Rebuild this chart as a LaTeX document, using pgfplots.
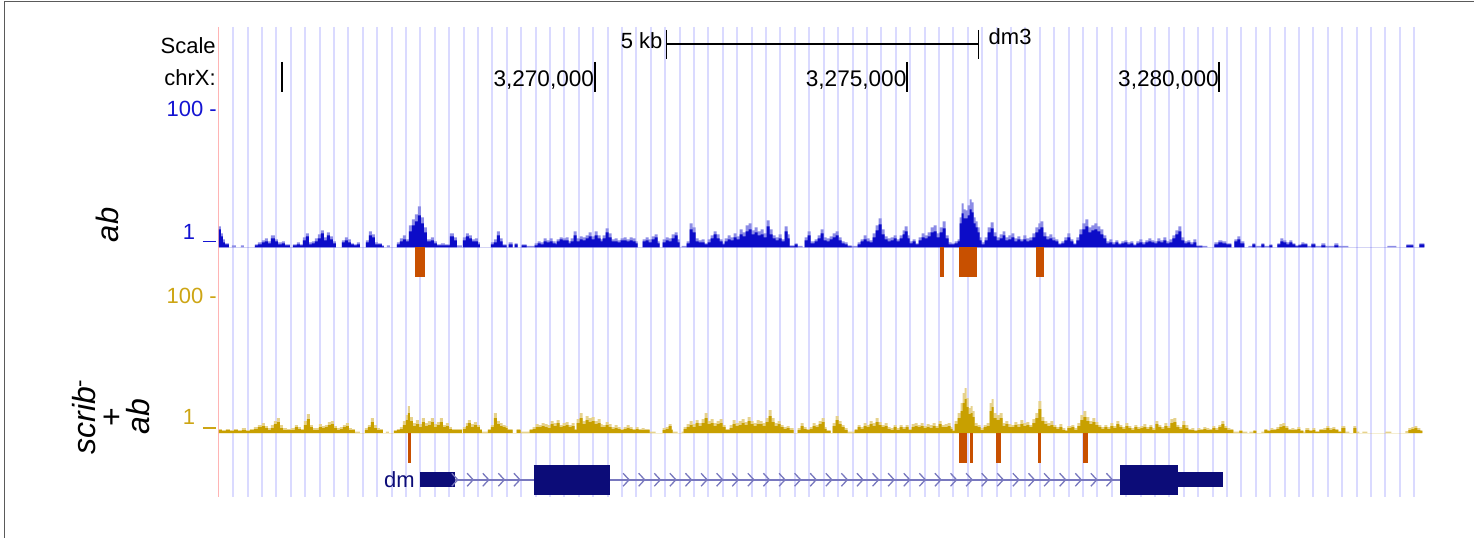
\documentclass[border=0pt]{standalone}
\usepackage{pgfplots}
\pgfplotsset{compat=1.18}
\usepackage{pgfplotstable}
\usepackage{fontspec}
\setmainfont{Liberation Sans}

\definecolor{sigB}{RGB}{12,12,200}
\definecolor{sigBl}{RGB}{140,140,230}
\definecolor{sigG}{RGB}{200,160,0}
\definecolor{sigGl}{RGB}{230,210,140}
\definecolor{hit}{RGB}{200,80,0}
\definecolor{gene}{RGB}{12,12,120}
\definecolor{intron}{RGB}{120,120,190}
\definecolor{gridc}{RGB}{218,218,255}
\definecolor{pinkl}{RGB}{255,180,180}
\definecolor{lblB}{RGB}{20,20,210}
\definecolor{lblG}{RGB}{205,165,20}
\definecolor{frame}{RGB}{90,90,90}

\pgfdeclareplotmark{chev}{%
  \pgfpathmoveto{\pgfqpoint{-3pt}{6.5pt}}%
  \pgfpathlineto{\pgfqpoint{3pt}{0pt}}%
  \pgfpathlineto{\pgfqpoint{-3pt}{-6.5pt}}%
  \pgfusepathqstroke}

% ab coverage: x (px), h = max (light), m = mean (dark)
\pgfplotstableread{
x h m
219 0 0
219 21 18
221 14 11
223 8 5
225 4 3
229 0 0
232 2 0
236 0 0
241 2 0
244 0 0
255 3 2
258 5 3
262 7 5
265 9 6
268 6 4
271 12 9
275 8 6
278 5 3
282 6 4
285 3 2
290 0 0
293 3 2
297 5 3
300 3 2
303 10 7
306 14 11
309 5 3
312 6 4
315 9 6
318 13 9
321 17 14
324 10 7
327 15 12
330 11 8
333 6 4
336 0 0
342 7 5
345 10 7
348 8 5
351 4 3
354 3 2
357 5 3
360 0 0
366 7 5
369 16 12
372 13 10
375 5 3
378 4 3
382 2 1
384 0 0
387 2 0
390 0 0
397 5 3
400 9 6
403 12 8
406 8 6
409 22 16
412 28 22
415 33 26
418 41 32
421 30 24
424 20 15
427 8 6
431 10 7
434 6 4
437 3 2
441 4 2
445 3 2
450 14 11
454 10 7
457 2 0
462 0 0
463 10 7
466 14 11
469 12 9
472 8 6
475 9 6
478 5 3
480 0 0
491 5 3
494 8 5
497 16 12
500 9 6
503 3 2
507 0 0
509 5 3
513 0 0
515 4 3
518 0 0
522 3 2
527 1.5 0
535 4 2
538 6 4
541 5 3
544 9 6
547 7 5
550 9 6
553 6 4
556 4 3
557 8 6
560 10 8
563 9 7
566 10 7
569 6 4
571 9 6
574 16 12
577 9 6
580 11 8
583 10 7
586 12 9
589 15 11
592 11 8
595 16 12
598 12 9
601 8 6
603 12 9
606 19 15
609 14 10
612 8 6
615 9 6
618 7 5
621 9 7
624 10 7
627 8 6
630 10 7
633 9 6
636 6 4
638 0 0
643 8 6
646 10 7
649 8 5
652 11 8
655 13 10
658 6 4
660 0 0
663 8 5
666 10 7
669 9 6
672 13 9
675 15 12
678 8 5
680 0 0
682 1.5 0
687 6 4
690 24 18
693 20 15
696 9 6
699 7 5
702 8 5
705 4 3
708 8 5
711 12 9
714 16 13
717 13 9
720 8 6
723 4 3
725 9 6
728 12 8
731 10 7
734 14 10
737 11 8
740 18 13
743 15 11
746 22 16
749 24 18
752 17 13
755 20 15
758 16 12
761 18 13
764 14 10
767 27 21
770 18 13
773 12 9
776 10 7
779 13 9
782 8 6
785 21 16
788 13 9
790 2 1
795 4 3
798 1.5 0
803 0 0
805 10 7
808 16 12
811 6 4
815 8 6
818 12 9
821 18 14
824 10 7
827 9 6
830 11 8
833 14 10
836 16 12
839 10 7
842 6 4
845 5 3
848 2 1
852 1.5 0
858 5 3
861 8 6
864 12 8
867 9 6
870 7 5
873 14 10
876 22 17
879 29 23
882 18 13
885 11 8
888 9 6
891 10 7
894 12 9
897 8 6
900 12 9
903 17 13
905 21 16
908 12 9
910 6 4
913 8 6
916 4 3
919 10 7
922 14 10
925 12 9
928 15 11
931 20 15
934 22 16
937 14 10
940 20 15
943 26 19
946 12 9
949 5 3
952 4 3
955 6 4
958 8 6
960 30 24
962 44 34
964 38 29
966 37 29
968 42 32
970 48 38
972 45 35
974 30 24
976 26 20
978 20 15
980 10 7
982 5 3
985 10 7
988 20 15
991 25 19
994 15 11
997 10 7
1000 13 9
1003 16 12
1006 10 7
1009 12 8
1012 14 10
1015 9 6
1018 11 8
1021 8 6
1024 12 8
1027 9 6
1030 10 7
1033 14 10
1036 20 15
1039 24 18
1041 26 20
1044 15 11
1047 11 8
1050 13 9
1053 10 7
1056 8 6
1059 4 3
1062 6 4
1065 10 7
1068 14 10
1071 8 6
1074 4 3
1077 10 7
1080 18 13
1083 24 18
1086 28 21
1089 20 15
1092 22 17
1095 24 18
1098 21 16
1101 18 13
1104 12 9
1107 6 4
1110 8 5
1113 5 3
1116 7 5
1119 4 3
1122 6 4
1125 7 5
1128 5 3
1131 6 4
1134 3 2
1137 6 4
1140 8 5
1143 5 3
1146 7 5
1149 9 6
1152 7 5
1155 6 4
1158 9 6
1161 7 5
1164 10 7
1167 6 4
1170 8 5
1173 12 9
1176 17 13
1179 21 16
1182 10 7
1185 6 4
1188 7 5
1191 5 3
1194 8 5
1197 2 1
1203 1.5 0
1208 0 0
1215 5 3
1219 7 5
1223 6 4
1227 4 3
1232 0 0
1235 8 6
1238 11 8
1241 6 4
1245 0 0
1249 1.5 0
1253 4 3
1256 1.5 0
1262 4 3
1265 1.5 0
1270 3 2
1273 0 0
1278 4 3
1281 9 6
1284 7 5
1287 5 3
1290 7 5
1293 4 3
1296 2 1
1299 3 2
1302 5 3
1305 4 3
1308 1.5 0
1312 4 3
1316 1.5 0
1322 4 2
1326 1.5 0
1335 4 2
1339 1.5 0
1349 0 0
1388 1.5 0
1397 0 0
1407 3 2
1411 3 2
1414 0 0
1420 4 3
1425 0 0
}\covab

% scrib- + ab coverage
\pgfplotstableread{
x h m
219 0 0
219 4 3
222 3 2
226 4 3
230 3 2
234 4 3
238 3 2
242 5 3
246 3 2
250 4 3
254 6 4
258 8 6
262 10 7
265 7 5
268 5 3
271 8 5
274 12 9
277 15 11
280 8 5
283 5 3
287 4 3
291 5 3
295 8 6
298 6 4
301 4 3
304 12 8
307 19 14
310 8 6
313 5 3
316 5 3
319 9 6
322 7 5
325 8 6
328 11 8
331 12 9
334 7 5
337 5 3
340 6 4
343 8 6
346 10 7
349 5 3
352 4 3
355 1.5 0
360 0 0
365 5 3
368 8 6
371 15 11
374 8 5
377 5 3
380 4 3
383 0 0
386 1.5 0
389 0 0
394 3 2
397 4 3
400 6 4
403 12 8
406 18 13
408 27 20
410 16 12
413 10 7
416 13 9
419 9 6
422 15 11
425 10 7
428 12 8
431 15 11
434 9 6
437 11 8
440 15 11
443 8 6
446 10 7
449 6 4
452 4 3
456 4 3
462 0 0
463 6 4
466 10 7
468 13 10
471 9 6
474 11 8
477 8 6
480 4 3
482 1.5 0
488 4 3
491 8 6
494 20 15
497 12 9
500 10 7
503 8 6
506 7 5
508 4 3
513 0 0
517 4 3
521 1.5 0
530 4 3
533 6 4
536 9 6
539 8 6
542 10 7
545 9 6
548 8 5
551 12 9
554 10 7
557 13 10
560 8 6
563 10 7
566 11 8
569 8 6
572 10 7
575 4 3
577 14 10
580 20 15
583 12 9
586 17 13
589 15 11
592 16 12
595 12 9
598 14 10
601 9 6
603 8 6
606 11 8
609 9 6
612 6 4
615 8 5
618 6 4
621 4 3
624 6 4
627 8 5
630 6 4
633 4 3
636 6 4
639 4 3
642 5 3
645 4 3
650 1.5 0
656 0 0
663 5 3
666 6 4
669 9 7
672 4 3
673 1.5 0
678 0 0
682 1.5 0
684 6 4
687 9 6
690 12 8
693 9 6
696 13 10
699 10 7
702 14 10
705 20 15
708 12 9
711 14 10
714 10 7
717 12 9
720 14 10
723 8 6
726 4 3
730 8 5
733 13 9
736 10 7
739 12 8
742 14 10
745 11 8
748 16 12
751 12 9
754 10 7
757 13 9
760 12 9
763 10 7
766 15 11
769 23 17
772 15 11
775 10 7
778 12 9
781 8 6
784 6 4
787 7 5
790 5 3
794 0 0
798 5 3
801 10 7
804 6 4
807 4 3
810 6 4
813 10 7
816 8 6
819 12 9
822 15 11
825 6 4
827 3 2
831 0 0
833 10 7
836 17 13
839 12 9
842 8 6
845 5 3
848 1.5 0
855 4 3
858 8 6
861 6 4
864 10 7
867 8 6
870 12 9
873 10 7
876 15 11
879 11 8
882 8 6
885 10 7
888 6 4
891 5 3
894 8 6
897 5 3
900 8 6
903 6 4
906 8 6
909 4 3
912 9 6
915 10 7
918 8 6
921 10 7
924 7 5
927 9 6
930 8 5
933 10 7
936 7 5
939 12 9
942 8 6
945 9 6
948 10 7
951 6 4
953 3 2
955 12 9
958 20 15
961 30 22
963 40 30
965 45 34
967 35 26
969 25 19
971 27 20
973 22 16
975 10 7
978 8 6
981 5 3
984 8 6
987 10 7
990 30 22
992 34 26
994 20 15
997 18 13
1000 20 15
1003 10 7
1006 12 9
1009 9 6
1012 8 6
1015 11 8
1018 9 6
1021 13 9
1024 10 7
1027 11 8
1030 8 6
1033 14 10
1036 20 15
1039 32 24
1042 16 12
1045 12 9
1048 10 7
1051 12 8
1054 8 6
1057 6 4
1060 9 6
1063 5 3
1066 3 2
1068 7 5
1072 8 6
1075 5 3
1078 10 7
1081 18 13
1084 22 16
1087 16 12
1090 12 9
1093 15 11
1096 11 8
1099 8 6
1102 6 4
1105 8 6
1108 6 4
1111 10 7
1114 7 5
1117 12 9
1120 8 6
1123 6 4
1126 10 7
1129 7 5
1132 5 3
1135 8 6
1138 6 4
1141 7 5
1144 9 6
1147 6 4
1150 8 6
1153 5 3
1156 12 9
1159 8 6
1162 6 4
1165 10 7
1168 7 5
1171 14 10
1174 15 11
1177 8 6
1180 6 4
1183 12 8
1186 8 5
1189 4 3
1192 5 3
1195 3 2
1198 5 3
1201 4 3
1204 6 4
1207 5 3
1210 4 3
1213 7 5
1216 5 3
1219 8 6
1222 12 9
1225 7 5
1228 5 3
1231 4 3
1234 1.5 0
1240 3 2
1243 1.5 0
1248 0 0
1250 1.5 0
1254 3 2
1257 0 0
1262 1.5 0
1265 4 3
1268 3 2
1271 5 3
1274 4 3
1277 6 4
1280 9 6
1283 10 7
1286 7 5
1289 4 3
1292 5 3
1295 4 3
1298 6 4
1301 3 2
1304 1.5 0
1306 5 3
1310 3 2
1313 5 3
1316 2 1
1320 4 3
1324 5 3
1327 7 5
1330 5 3
1333 6 4
1336 4 3
1339 2 1
1342 7 5
1346 1.5 0
1350 0 0
1354 7 5
1357 1.5 0
1360 0 0
1363 1.5 0
1368 0 0
1386 1.5 0
1392 0 0
1406 2 0
1409 5 3
1412 6 4
1415 7 5
1418 5 3
1421 3 2
1423 0 0
}\covscrib

\begin{document}
\begin{tikzpicture}[every node/.style={inner sep=0pt}]
\begin{axis}[
  scale only axis, width=1475pt, height=538pt,
  xmin=0, xmax=1475, ymin=0, ymax=538, y dir=reverse,
  enlargelimits=false, hide axis, clip=false]

\path (axis cs:0,0) rectangle (axis cs:1475,538);
\draw[frame, line width=1.5pt] (axis cs:4.5,538) -- (axis cs:4.5,1.5) -- (axis cs:1475,1.5);

% window grid
\pgfplotsinvokeforeach{0,...,82}{
  \draw[gridc, line width=2pt] (axis cs:{233.3+14.41*#1},27) -- (axis cs:{233.3+14.41*#1},497);
}
\draw[pinkl, line width=1.5pt] (axis cs:218.5,27) -- (axis cs:218.5,497);

% ruler
\node[anchor=base east, font=\fontsize{22}{26}\selectfont] at (axis cs:216,53.3) {Scale};
\node[anchor=base east, font=\fontsize{22}{26}\selectfont] at (axis cs:216,86) {chrX:};
\node[anchor=base east, font=\fontsize{22}{26}\selectfont] at (axis cs:663,48.3) {5 kb};
\node[anchor=base west, font=\fontsize{22}{26}\selectfont] at (axis cs:989,45) {dm3};
\draw[black, line width=1.3pt] (axis cs:666.7,44) -- (axis cs:979,44);
\draw[black, line width=1.3pt] (axis cs:666.7,30) -- (axis cs:666.7,59);
\draw[black, line width=1.3pt] (axis cs:979,30) -- (axis cs:979,59);
\draw[black, line width=2pt] (axis cs:282.5,62) -- (axis cs:282.5,92);
\draw[black, line width=2pt] (axis cs:595,62) -- (axis cs:595,92);
\draw[black, line width=2pt] (axis cs:907.5,62) -- (axis cs:907.5,92);
\draw[black, line width=2pt] (axis cs:1220,62) -- (axis cs:1220,92);
\node[anchor=base east, font=\fontsize{22.6}{26}\selectfont] at (axis cs:594.5,86.5) {3,270,000};
\node[anchor=base east, font=\fontsize{22.6}{26}\selectfont] at (axis cs:907,86.5) {3,275,000};
\node[anchor=base east, font=\fontsize{22.6}{26}\selectfont] at (axis cs:1219.5,86.5) {3,280,000};

% track labels
\node[anchor=base east, text=lblB, font=\fontsize{22}{26}\selectfont] at (axis cs:217,116.5) {100 -};
\node[anchor=base east, text=lblB, font=\fontsize{22}{26}\selectfont] at (axis cs:195.5,240) {1};
\draw[lblB, line width=1.3pt] (axis cs:203,241.7) -- (axis cs:216.5,241.7);
\node[anchor=base east, text=lblG, font=\fontsize{22}{26}\selectfont] at (axis cs:217,303.3) {100 -};
\node[anchor=base east, text=lblG, font=\fontsize{22}{26}\selectfont] at (axis cs:195.5,425) {1};
\draw[lblG, line width=1.3pt] (axis cs:203,428.3) -- (axis cs:216.5,428.3);
\node[rotate=90, font=\fontsize{31}{30}\selectfont\itshape] at (axis cs:107.5,225) {ab};
\node[rotate=90, align=center, font=\fontsize{32}{27}\selectfont] at (axis cs:111,417)
  {\textit{scrib}\textsuperscript{-}\\+\\\textit{ab}};

% coverage tracks
\addplot[const plot, fill=sigBl, draw=none] table[x=x, y expr={247.5-\thisrow{h}}] {\covab};
\addplot[const plot, fill=sigB, draw=none] table[x=x, y expr={247.5-\thisrow{m}}] {\covab};
\addplot[const plot, fill=sigGl, draw=none] table[x=x, y expr={433.3-\thisrow{h}}] {\covscrib};
\addplot[const plot, fill=sigG, draw=none] table[x=x, y expr={433.3-\thisrow{m}}] {\covscrib};

% enriched regions
\addplot[hit, line width=10pt] coordinates {(420,247.5) (420,277.5)};
\addplot[hit, line width=3.4pt] coordinates {(942.5,247.5) (942.5,277.5)};
\addplot[hit, line width=18pt] coordinates {(968.5,247.5) (968.5,277.5)};
\addplot[hit, line width=8.2pt] coordinates {(1040.8,247.5) (1040.8,277.5)};
\addplot[hit, line width=3.3pt] coordinates {(409.4,433.3) (409.4,463.5)};
\addplot[hit, line width=7.7pt] coordinates {(963.8,433.3) (963.8,463.5)};
\addplot[hit, line width=3pt] coordinates {(971.5,433.3) (971.5,463.5)};
\addplot[hit, line width=5pt] coordinates {(998.5,433.3) (998.5,463.5)};
\addplot[hit, line width=3pt] coordinates {(1040.5,433.3) (1040.5,463.5)};
\addplot[hit, line width=5pt] coordinates {(1086.5,433.3) (1086.5,463.5)};

% gene model
\node[anchor=base east, text=gene, font=\fontsize{22}{26}\selectfont] at (axis cs:415,488) {dm};
\addplot[intron, line width=2pt] coordinates {(455,480) (1121,480)};
\addplot[intron, line width=1.3pt, only marks, mark=chev] coordinates {
(455,480) (470.4,480) (486,480) (501.6,480) (517.2,480)
(626.4,480) (642,480) (657.6,480) (673.2,480) (688.8,480) (704.4,480) (720,480)
(735.6,480) (751.2,480) (766.8,480) (782.4,480) (798,480) (813.6,480) (829.2,480)
(844.8,480) (860.4,480) (876,480) (891.6,480) (907.2,480) (922.8,480) (938.4,480)
(954,480) (969.6,480) (985.2,480) (1000.8,480) (1016.4,480) (1032,480) (1047.6,480)
(1063.2,480) (1078.8,480) (1094.4,480) (1110,480)};
\addplot[gene, line width=15pt] coordinates {(420,479.8) (455,479.8)};
\addplot[gene, line width=30pt] coordinates {(534,480) (610.7,480)};
\addplot[gene, line width=30pt] coordinates {(1121,480) (1179,480)};
\addplot[gene, line width=15.5pt] coordinates {(1179,479.8) (1224,479.8)};
\end{axis}
\end{tikzpicture}
\end{document}
